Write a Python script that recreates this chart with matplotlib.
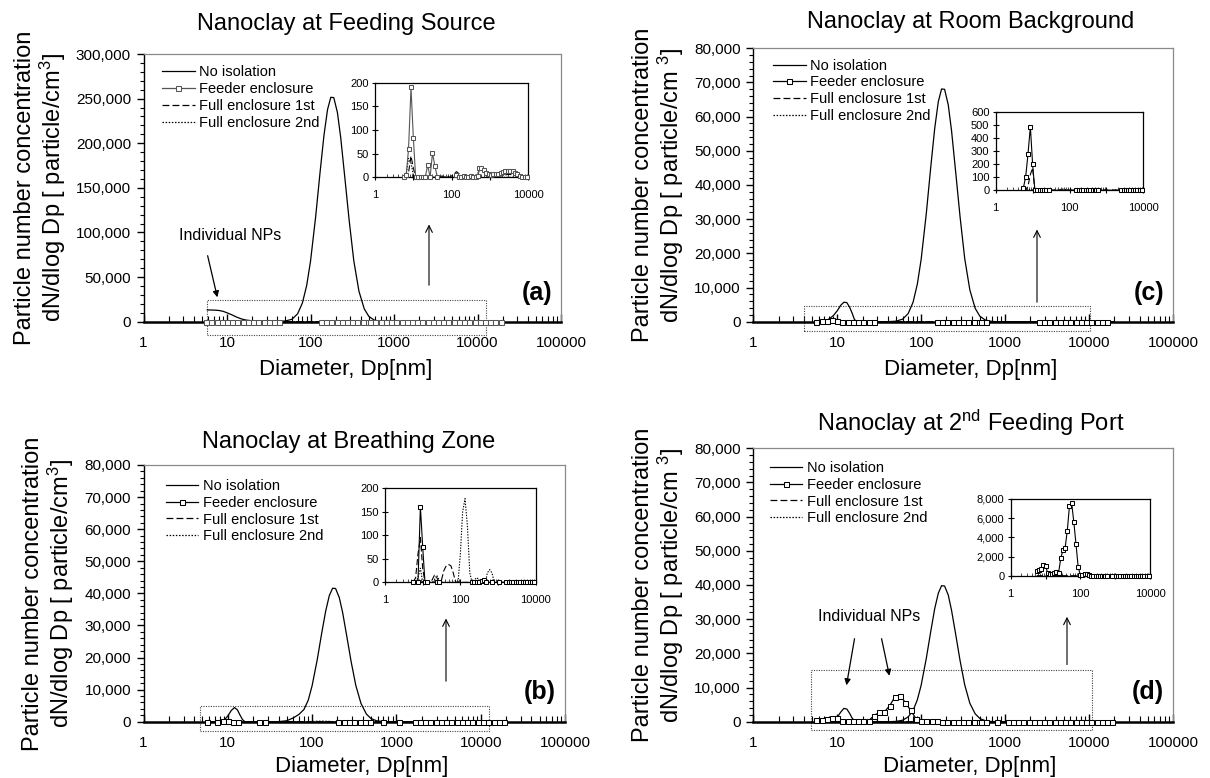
import numpy as np
import matplotlib
matplotlib.use('Agg')
import matplotlib.pyplot as plt
from matplotlib.lines import Line2D
from matplotlib.patches import FancyArrowPatch
from matplotlib.ticker import FuncFormatter, LogLocator, NullFormatter, MultipleLocator, FixedLocator

plt.rcParams['font.family'] = ['Liberation Sans', 'DejaVu Sans']
plt.rcParams['mathtext.fontset'] = 'custom'
plt.rcParams['mathtext.rm'] = 'Liberation Sans'
plt.rcParams['mathtext.it'] = 'Liberation Sans:italic'
plt.rcParams['mathtext.bf'] = 'Liberation Sans:bold'

N = None

# ---------------- text / categories ----------------
titles = {'a': 'Nanoclay at Feeding Source',
          'c': 'Nanoclay at Room Background',
          'b': 'Nanoclay at Breathing Zone',
          'd': r'Nanoclay at 2$^{\mathrm{nd}}$ Feeding Port'}
series_names = ['No isolation', 'Feeder enclosure', 'Full enclosure 1st', 'Full enclosure 2nd']
x_ticks = [1, 10, 100, 1000, 10000, 100000]
x_tick_labels = ['1', '10', '100', '1000', '10000', '100000']
inset_x_ticks = [1, 10, 100, 1000, 10000]
inset_x_labels = ['1', '', '100', '', '10000']
y_ticks_a = [0, 50000, 100000, 150000, 200000, 250000, 300000]
y_ticks_bcd = [0, 10000, 20000, 30000, 40000, 50000, 60000, 70000, 80000]
inset_y_ticks = {'a': [0, 50, 100, 150, 200],
                 'c': [0, 100, 200, 300, 400, 500, 600],
                 'b': [0, 50, 100, 150, 200],
                 'd': [0, 2000, 4000, 6000, 8000]}
xlabel = 'Diameter, Dp[nm]'
ylabel_ab = 'Particle number concentration\ndN/dlog Dp [ particle/cm$^3$]'
ylabel_cd = 'Particle number concentration\ndN/dlog Dp [ particle/cm $^3$]'
annot_text = 'Individual NPs'

# ---------------- No isolation ----------------
noiso_dp_a = [5.8, 7, 8, 9, 10, 11.5, 13, 15, 17, 20, 25, 30, 36, 42, 50, 60, 70, 80, 90, 100,
              115, 130, 145, 160, 175, 190, 210, 230, 260, 290, 330, 380, 440, 500, 580, 680, 800, 1000, 20000]
noiso_a = [13200, 13000, 12600, 11600, 10000, 7600, 5200, 3000, 1800, 1000, 700, 600, 500, 500, 800,
           2700, 8800, 21000, 40600, 67600, 116700, 166900, 209000, 237800, 251500, 251100, 234500,
           206400, 158000, 114100, 68300, 34300, 14400, 5900, 1800, 400, 100, 0, 0]

noiso_dp = [6, 7, 8, 9, 10, 11, 12, 13, 14, 15, 16, 17, 20, 30, 40, 50, 60, 70, 80, 90, 100, 115, 130,
            145, 160, 175, 190, 210, 230, 260, 290, 330, 380, 440, 500, 580, 680, 800, 1000, 20000]
noiso_c = [0, 150, 800, 1800, 3200, 4800, 5700, 5600, 4300, 2600, 700, 0, 0, 0, 15, 150, 730, 2380,
           5680, 11000, 18300, 31600, 45200, 56600, 64400, 68100, 68000, 63500, 55900, 42800, 30900,
           18500, 9300, 3900, 1600, 490, 110, 0, 0, 0]
noiso_b = [0, 0, 0, 400, 1800, 3500, 4400, 3700, 2000, 600, 0, 0, 0, 0, 10, 300, 1200, 2300, 3800,
           6700, 11200, 19300, 27600, 34500, 39300, 41600, 41500, 38700, 34100, 26100, 18800, 11300,
           5700, 2400, 980, 300, 70, 0, 0, 0]
noiso_d = [200, 250, 300, 450, 1300, 2800, 3900, 3700, 2500, 1100, 300, 0, 0, 0, 0, 85, 430, 1390,
           3300, 6400, 10700, 18500, 26400, 33100, 37600, 39800, 39700, 37100, 32600, 25000, 18000,
           10800, 5400, 2300, 930, 290, 60, 0, 0, 0]

# ---------------- enclosure series (SMPS + APS size channels) ----------------
size_dp = [5.6, 6.5, 7.5, 8.7, 10.0, 11.5, 13.3, 15.4, 17.8, 20.5, 23.7, 27.4, 31.6, 36.5, 42.2,
           48.7, 56.2, 64.9, 75.0, 86.6, 100, 115, 133, 154, 178, 205, 237, 274, 316, 365, 422, 487,
           520, 600, 690, 800, 920, 1070, 1230, 1420, 1640, 1900, 2190, 2530, 2920, 3370, 3890, 4490,
           5190, 5990, 6920, 7990, 9230, 10660, 12310, 14210, 16410, 18950]

feeder_a = [0, 4, 60, 190, 84, 0, 0, 0, 1, 0, 26, 0, 51, 24, 1, N, N, N, N, N, N, N, 5, 1, 1, 2, 1, 1, 2, 1, 1, 2,
            19, 19, 16, 10, 7, 5, 6, 7, 8, 10, 12, 13, 14, 14, 13, 10, 6, 3, 1, 0, 0, 0, 0, 0, 0, 0]
full1_a = [0, 0, 10, 45, 20, 0, 0, 0, 0, 0, 0, 0, 0, 0, 0, 0, 3, 0, 4, 0, 3, 6, 12, 8, 2, 0, 0, 0, 0, 0, 0, 5,
           15, 18, 12, 5, 2, 1, 1, 1, 2, 3, 4, 5, 6, 6, 5, 4, 3, 2, 1, 0, 0, 0, 0, 0, 0, 0]
full2_a = [0, 5, 40, 30, 5, 0, 0, 0, 0, 0, 0, 0, 0, 0, 0, 0, 0, 0, 0, 0, 0, 0, 0, 0, 0, 0, 0, 0, 0, 0, 0, 8,
           18, 20, 15, 8, 3, 1, 0, 0, 0, 0, 0, 0, 0, 0, 0, 0, 0, 0, 0, 0, 0, 0, 0, 0, 0, 0]

feeder_c = [13, 103, 278, 489, 200, 0, 0, 0, 0, 0, 0, 0, N, N, N, N, N, N, N, N, N, N, N, 1, 0, 1, 0, 1, 0, 1, 0, 1,
            0, 1, N, N, N, N, N, N, N, N, N, 1, 0, 1, 0, 1, 0, 1, 0, 1, 0, 1, 0, 1, 0, N]
full1_c = [0, 0, 30, 120, 170, 0, 0, 0, 0, 0, 0, 0, 0, 0, 0, 0, 0, 0, 0, 0, 0, 0, 0, 0, 0, 0, 0, 0, 0, 0, 0, 0,
           0, 0, 0, 0, 0, 0, 0, 0, 0, 0, 0, 0, 0, 0, 0, 0, 0, 0, 0, 0, 0, 0, 0, 0, 0, 0]
full2_c = [0, 0, 0, 0, 0, 0, 0, 0, 0, 0, 0, 0, 0, 0, 0, 0, 5, 8, 5, 0, 0, 0, 0, 0, 0, 0, 0, 0, 0, 0, 0, 0,
           0, 0, 0, 0, 0, 0, 0, 0, 0, 0, 0, 0, 0, 0, 0, 0, 0, 0, 0, 0, 0, 0, 0, 0, 0, 0]

feeder_b = [0, N, 0, 161, 76, 0, 0, N, N, N, 0, 0, N, N, N, N, N, N, N, N, N, N, N, N, N, 0, 1, 0, 1, 2, 5, 0,
            N, N, 0, N, N, 0, N, N, 0, 0, 0, 0, 0, 0, 0, 0, 0, 0, 0, 0, 0, 0, 0, 0, 0, 0]
full1_b = [0, 10, 60, 95, 30, 0, 0, 0, 5, 15, 10, 0, 5, 25, 35, 38, 35, 20, 0, 0, 0, 0, 0, 0, 0, 0, 0, 0, 0, 0, 0, 0,
           0, 0, 0, 0, 0, 0, 0, 0, 0, 0, 0, 0, 0, 0, 0, 0, 0, 0, 0, 0, 0, 0, 0, 0, 0, 0]
full2_b = [0, 0, 10, 30, 0, 0, 0, 0, 0, 5, 15, 5, 0, 0, 0, 0, 0, 0, 0, 0, 60, 150, 178, 120, 20, 0, 5, 10, 5, 0, 0, 8,
           20, 27, 20, 0, 0, 0, 0, 0, 0, 0, 0, 0, 0, 0, 0, 0, 0, 0, 0, 0, 0, 0, 0, 0, 0, 0]

feeder_d = [500, 600, 750, 1150, 1050, 300, 200, 200, 250, 350, 300, 1800, 2700, 2900, 4700, 7300, 7600, 5600,
            3300, 900, 80, 60, 170, 150, 50, 0, 0, 0, 0, 0, 0, 0,
            0, 0, N, 0, N, 0, 0, 0, 0, 0, 0, 0, 0, 0, 0, 0, 0, 0, 0, 0, 0, 0, 0, 0, 0, 0]
full1_d = [0, 0, 0, 0, 0, 0, 100, 200, 100, 0, 0, 150, 0, 0, 0, 0, 0, 0, 0, 0, 0, 0, 0, 0, 0, 0, 0, 0, 0, 0, 0, 0,
           0, 0, 0, 0, 0, 0, 0, 0, 0, 0, 0, 0, 0, 0, 0, 0, 0, 0, 0, 0, 0, 0, 0, 0, 0, 0]
full2_d = [0, 0, 0, 0, 0, 0, 0, 0, 0, 0, 0, 0, 0, 0, 0, 0, 0, 0, 0, 0, 0, 0, 0, 0, 0, 0, 0, 0, 0, 0, 0, 0,
           0, 0, 0, 0, 0, 0, 0, 0, 0, 0, 0, 0, 0, 0, 0, 0, 0, 0, 0, 0, 0, 0, 0, 0, 0, 0]

# zoom rectangles [x0, x1, y0, y1] in data units
rect_a = [5.8, 12800, -14900, 24300]
rect_c = [4.0, 10200, -2700, 4600]
rect_b = [4.7, 12600, -2800, 4800]
rect_d = [4.85, 10800, -2300, 15100]

# ---------------- layout (pixels, top-left origin) ----------------
W, H = 1210, 778
fig = plt.figure(figsize=(W / 100, H / 100), dpi=100)


def fx(px):
    return px / W


def fy(py):
    return 1 - py / H


def add_ax(l, t, r, b):
    return fig.add_axes([fx(l), fy(b), (r - l) / W, (b - t) / H])


comma = FuncFormatter(lambda v, p: '{:,.0f}'.format(v))

LW = 0.9
DASH = (0, (5.5, 2.5))
DOT = (0, (1.2, 1.3))


def draw_series(ax, noiso_x, noiso_y, feed, f1, f2, feed_color, inset=False):
    dp = np.array(size_dp, dtype=float)
    fe = np.array(feed, dtype=float)
    a1 = np.array(f1, dtype=float)
    a2 = np.array(f2, dtype=float)
    lw = 0.8 if inset else LW
    ms = 3.2 if inset else 3.6
    if inset:
        m = dp <= 10000
    else:
        m = np.ones_like(dp, dtype=bool)
        ax.plot(noiso_x, noiso_y, color='black', lw=LW, zorder=3, clip_on=False)
    ax.plot(dp[m], a2[m], color='black', lw=lw, ls=DOT, zorder=3, clip_on=False)
    ax.plot(dp[m], a1[m], color='black', lw=lw, ls=DASH, zorder=3, clip_on=False)
    ax.plot(dp[m], fe[m], color=feed_color, lw=lw, marker='s', ms=ms, mfc='white',
            mec=feed_color, mew=0.75, zorder=4, clip_on=False)


def style_main(ax, ymax, yticks, ystep):
    ax.set_xscale('log')
    ax.set_xlim(1, 100000)
    ax.set_ylim(0, ymax)
    ax.xaxis.set_major_locator(FixedLocator(x_ticks))
    ax.set_xticklabels(x_tick_labels)
    ax.xaxis.set_minor_locator(LogLocator(base=10, subs=(2, 3, 4, 5, 6, 7, 8, 9), numticks=30))
    ax.xaxis.set_minor_formatter(NullFormatter())
    ax.set_yticks(yticks)
    ax.yaxis.set_major_formatter(comma)
    ax.yaxis.set_minor_locator(MultipleLocator(ystep / 5))
    ax.tick_params(axis='x', which='major', direction='in', length=6, width=1.0, pad=10, labelsize=11)
    ax.tick_params(axis='x', which='minor', direction='in', length=4, width=0.8)
    ax.tick_params(axis='y', which='major', direction='out', length=5, width=1.0, pad=4, labelsize=11)
    ax.tick_params(axis='y', which='minor', direction='out', length=3, width=0.8)
    for s in ('top', 'right'):
        ax.spines[s].set_color('#8a8a8a')
        ax.spines[s].set_linewidth(0.9)
    ax.spines['left'].set_linewidth(1.0)
    ax.spines['bottom'].set_linewidth(1.8)


def style_inset(ax, ymax, yticks):
    ax.set_xscale('log')
    ax.set_xlim(1, 10000)
    ax.set_ylim(0, ymax)
    ax.xaxis.set_major_locator(FixedLocator(inset_x_ticks))
    ax.set_xticklabels(inset_x_labels)
    ax.xaxis.set_minor_locator(LogLocator(base=10, subs=(2, 3, 4, 5, 6, 7, 8, 9), numticks=30))
    ax.xaxis.set_minor_formatter(NullFormatter())
    ax.set_yticks(yticks)
    ax.yaxis.set_major_formatter(comma)
    ax.tick_params(axis='both', which='major', direction='inout', length=5, width=0.8, labelsize=8, pad=2)
    ax.tick_params(axis='x', which='major', pad=7)
    ax.tick_params(axis='x', which='minor', direction='in', length=2, width=0.5)
    for s in ax.spines.values():
        s.set_linewidth(0.9)
        s.set_color('black')


panels = [
    dict(k='a', box=(143.5, 54.0, 561, 321.7), ibox=(375, 82.7, 528.3, 177.3), ymax=300000, yticks=y_ticks_a,
         ystep=50000, ins_max=200, nx=noiso_dp_a, ny=noiso_a, fe=feeder_a, f1=full1_a, f2=full2_a,
         fcol='#555555', rect=rect_a, ylab=ylabel_ab, title_xy=(346, 30), leg=(162, 65.4), tag_y=0.107,
         arrow=((429, 288), (429, 221.7)), xlab_xy=(346, 375)),
    dict(k='c', box=(753.3, 48.3, 1173, 321.7), ibox=(995.7, 112.3, 1143.3, 190), ymax=80000, yticks=y_ticks_bcd,
         ystep=10000, ins_max=600, nx=noiso_dp, ny=noiso_c, fe=feeder_c, f1=full1_c, f2=full2_c,
         fcol='black', rect=rect_c, ylab=ylabel_cd, title_xy=(971, 28.3), leg=(773, 58.7), tag_y=0.104,
         arrow=((1037, 305), (1037, 226.7)), xlab_xy=(971, 375)),
    dict(k='b', box=(143.5, 465.0, 565, 721.7), ibox=(385, 488.3, 535.7, 582.3), ymax=80000, yticks=y_ticks_bcd,
         ystep=10000, ins_max=200, nx=noiso_dp, ny=noiso_b, fe=feeder_b, f1=full1_b, f2=full2_b,
         fcol='black', rect=rect_b, ylab=ylabel_ab, title_xy=(349, 448), leg=(165.5, 479), tag_y=0.115,
         arrow=((446, 684), (446, 615.7)), xlab_xy=(362, 771.7)),
    dict(k='d', box=(753.3, 448.3, 1173, 721.7), ibox=(1010.7, 499, 1150, 575.7), ymax=80000, yticks=y_ticks_bcd,
         ystep=10000, ins_max=8000, nx=noiso_dp, ny=noiso_d, fe=feeder_d, f1=full1_d, f2=full2_d,
         fcol='black', rect=rect_d, ylab=ylabel_cd, title_xy=(971, 430.7), leg=(769.5, 461), tag_y=0.108,
         arrow=((1067, 667.3), (1067, 614)), xlab_xy=(970, 771.7)),
]

for p in panels:
    l, t, r, b = p['box']
    ax = add_ax(l, t, r, b)
    draw_series(ax, p['nx'], p['ny'], p['fe'], p['f1'], p['f2'], p['fcol'])
    style_main(ax, p['ymax'], p['yticks'], p['ystep'])
    ax.set_ylabel(p['ylab'], fontsize=17, labelpad=6, linespacing=1.06)

    # zoom rectangle
    x0, x1, y0, y1 = p['rect']
    ax.plot([x0, x1, x1, x0, x0], [y0, y0, y1, y1, y0], color='#444444', lw=0.8, ls=(0, (1, 1.2)),
            clip_on=False, zorder=2)

    # title and x label
    fig.text(fx(p['title_xy'][0]), fy(p['title_xy'][1]), titles[p['k']], fontsize=17,
             ha='center', va='baseline')
    fig.text(fx(p['xlab_xy'][0]), fy(p['xlab_xy'][1]), xlabel, fontsize=16, ha='center', va='baseline')

    # panel tag
    ax.text(1 - 9 / (r - l), p['tag_y'], '(' + p['k'] + ')', transform=ax.transAxes, ha='right',
            va='center', fontsize=18, fontweight='bold')

    # legend
    handles = [Line2D([], [], color='black', lw=LW),
               Line2D([], [], color=p['fcol'], lw=LW, marker='s', ms=3.6, mfc='white', mec=p['fcol'], mew=0.75),
               Line2D([], [], color='black', lw=LW, ls=DASH),
               Line2D([], [], color='black', lw=LW, ls=DOT)]
    ax.legend(handles, series_names, loc='upper left',
              bbox_to_anchor=(fx(p['leg'][0]), fy(p['leg'][1])), bbox_transform=fig.transFigure,
              frameon=False, fontsize=10.5, handlelength=2.25, handletextpad=0.3, labelspacing=0.19,
              borderpad=0, borderaxespad=0, numpoints=1)

    # up arrow toward inset
    (ax0, ay0), (ax1, ay1) = p['arrow']
    fig.add_artist(FancyArrowPatch((fx(ax0), fy(ay0)), (fx(ax1), fy(ay1)),
                                   transform=fig.transFigure, arrowstyle='->',
                                   mutation_scale=12, lw=0.8, color='black'))

    # inset
    il, it, ir, ib = p['ibox']
    ins = add_ax(il, it, ir, ib)
    draw_series(ins, None, None, p['fe'], p['f1'], p['f2'], p['fcol'], inset=True)
    style_inset(ins, p['ins_max'], inset_y_ticks[p['k']])

# "Individual NPs" annotations
fig.text(fx(230.5), fy(235), annot_text, fontsize=11.5, ha='center', va='center')
fig.add_artist(FancyArrowPatch((fx(207), fy(253)), (fx(218), fy(300)),
                               transform=fig.transFigure, arrowstyle='-|>',
                               mutation_scale=9, lw=0.9, color='black'))
fig.text(fx(869), fy(616.7), annot_text, fontsize=11.5, ha='center', va='center')
fig.add_artist(FancyArrowPatch((fx(855), fy(636)), (fx(846), fy(688)),
                               transform=fig.transFigure, arrowstyle='-|>',
                               mutation_scale=9, lw=0.9, color='black'))
fig.add_artist(FancyArrowPatch((fx(881), fy(636)), (fx(890), fy(678.5)),
                               transform=fig.transFigure, arrowstyle='-|>',
                               mutation_scale=9, lw=0.9, color='black'))

fig.savefig('out.png', dpi=100)
